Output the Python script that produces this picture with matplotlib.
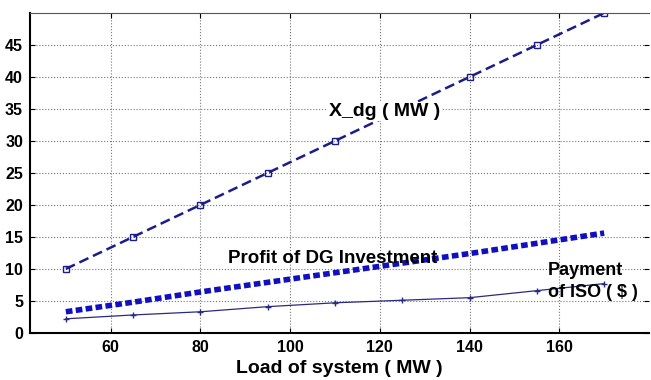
import matplotlib.pyplot as plt

load = [50, 65, 80, 95, 110, 125, 140, 155, 170]
x_dg = [10, 15, 20, 25, 30, 35, 40, 45, 50]
profit = [3.3, 4.8, 6.4, 7.9, 9.4, 10.9, 12.4, 14.0, 15.6]
payment = [2.2, 2.8, 3.3, 4.1, 4.7, 5.1, 5.5, 6.6, 7.7]

plt.rcParams['font.family'] = ['Liberation Sans', 'DejaVu Sans']

fig = plt.figure(figsize=(6.51, 3.8), dpi=100)
ax = fig.add_axes([0.046, 0.124, 0.951, 0.842])

ax.plot(load, x_dg, '--', color='#1c1c8a', lw=1.8, marker='s', ms=5,
        mfc='none', mec='#1c1c8a', mew=1.0, dashes=(4, 2))
ax.plot(load, profit, ':', color='#1010c0', lw=4.0, dashes=(1.2, 0.6))
ax.plot(load, payment, '-', color='#2a2a80', lw=0.9, marker='+', ms=5)

ax.set_xlim(42, 180)
ax.set_ylim(0, 50)
ax.set_xticks([60, 80, 100, 120, 140, 160])
ax.set_yticks([0, 5, 10, 15, 20, 25, 30, 35, 40, 45])
ax.grid(True, ls=':', color='#777777', lw=0.8)
ax.tick_params(direction='in', top=True, right=True, labelsize=11.5, pad=5)
for lab in ax.get_xticklabels() + ax.get_yticklabels():
    lab.set_fontweight('bold')
ax.spines['right'].set_visible(False)
ax.spines['top'].set_color('#555555')
ax.spines['bottom'].set_linewidth(1.5)
ax.spines['left'].set_linewidth(1.5)

ax.set_xlabel('Load of system ( MW )', fontsize=14, fontweight='bold', labelpad=4)

ax.text(121, 34.6, 'X_dg ( MW )', fontsize=14, fontweight='bold', ha='center',
        va='center', bbox=dict(fc='white', ec='none', pad=1))
ax.text(109.5, 11.7, 'Profit of DG Investment', fontsize=13.5, fontweight='bold',
        ha='center', va='center')
ax.text(157.5, 8.0, 'Payment\nof ISO ( $ )', fontsize=13, fontweight='bold',
        ha='left', va='center', linespacing=1.35)

fig.savefig('out.png', dpi=100)
